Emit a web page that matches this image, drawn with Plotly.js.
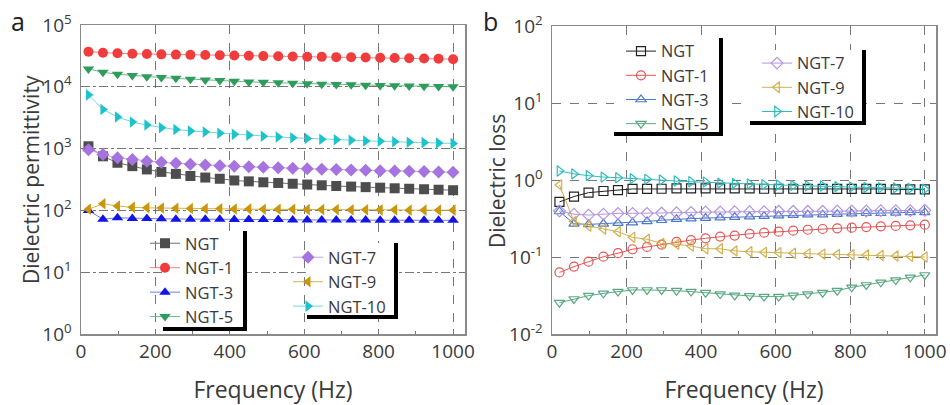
<!DOCTYPE html>
<html>
<head>
<meta charset="utf-8">
<script src="https://cdn.plot.ly/plotly-3.0.1.min.js"></script>
<style>html,body{margin:0;padding:0;background:#fff;}#chart{width:950px;height:405px;}</style>
</head>
<body>
<div id="chart"></div>
<script>
// ---- data ----
const seriesNames = ["NGT", "NGT-1", "NGT-3", "NGT-5", "NGT-7", "NGT-9", "NGT-10"];
const freq = [20, 59, 98, 138, 177, 216, 255, 294, 334, 373, 412, 451, 490, 530, 569, 608, 647, 686, 726, 765, 804, 843, 882, 922, 961, 1000];

// Panel a: dielectric permittivity
const permNGT   = [1090, 750, 590, 520, 460, 420, 390, 360, 340, 325, 305, 295, 285, 278, 270, 262, 255, 248, 243, 238, 233, 228, 224, 220, 216, 212];
const permNGT1  = [37000, 35500, 34800, 34300, 33900, 33500, 33200, 32900, 32600, 32300, 32000, 31700, 31400, 31200, 31000, 30700, 30500, 30200, 30000, 29700, 29500, 29200, 29000, 28700, 28400, 28000];
const permNGT3  = [100, 72, 76, 74, 74, 73, 72, 72, 72, 72, 71, 71, 71, 71, 70, 70, 70, 70, 70, 70, 69, 69, 69, 69, 69, 69];
const permNGT5  = [19500, 17200, 16000, 15200, 14600, 14100, 13700, 13300, 12900, 12600, 12300, 12000, 11800, 11600, 11400, 11200, 11000, 10900, 10800, 10600, 10500, 10400, 10300, 10200, 10100, 10000];
const permNGT7  = [960, 800, 710, 665, 625, 600, 580, 560, 545, 530, 518, 507, 497, 488, 480, 472, 465, 458, 452, 446, 440, 435, 430, 425, 420, 415];
const permNGT9  = [104, 128, 118, 112, 110, 109, 108, 107, 106, 106, 105, 105, 104, 104, 104, 103, 103, 103, 102, 102, 102, 102, 101, 101, 101, 101];
const permNGT10 = [7400, 4300, 3250, 2700, 2400, 2180, 2030, 1930, 1850, 1770, 1700, 1640, 1590, 1540, 1500, 1460, 1420, 1390, 1360, 1330, 1310, 1290, 1270, 1250, 1230, 1210];

// Panel b: dielectric loss
const lossNGT   = [0.52, 0.61, 0.685, 0.72, 0.74, 0.765, 0.765, 0.77, 0.78, 0.78, 0.78, 0.78, 0.78, 0.78, 0.77, 0.77, 0.77, 0.765, 0.765, 0.765, 0.765, 0.765, 0.765, 0.755, 0.755, 0.755];
const lossNGT1  = [0.063, 0.075, 0.087, 0.101, 0.112, 0.126, 0.135, 0.145, 0.157, 0.166, 0.175, 0.184, 0.19, 0.2, 0.207, 0.213, 0.22, 0.226, 0.231, 0.236, 0.24, 0.245, 0.25, 0.253, 0.258, 0.263];
const lossNGT3  = [0.39, 0.27, 0.265, 0.27, 0.275, 0.28, 0.29, 0.3, 0.31, 0.315, 0.32, 0.325, 0.33, 0.335, 0.34, 0.345, 0.35, 0.355, 0.355, 0.36, 0.365, 0.37, 0.37, 0.375, 0.38, 0.38];
const lossNGT5  = [0.0255, 0.0285, 0.0315, 0.0337, 0.0355, 0.0373, 0.0373, 0.0373, 0.0365, 0.0355, 0.0344, 0.033, 0.0317, 0.0312, 0.0306, 0.0306, 0.0317, 0.033, 0.0344, 0.0365, 0.0404, 0.0433, 0.0469, 0.0502, 0.0545, 0.0584];
const lossNGT7  = [0.396, 0.36, 0.35, 0.36, 0.369, 0.369, 0.369, 0.372, 0.376, 0.38, 0.384, 0.384, 0.388, 0.388, 0.388, 0.392, 0.392, 0.392, 0.392, 0.396, 0.396, 0.396, 0.4, 0.4, 0.4, 0.404];
const lossNGT9  = [0.86, 0.29, 0.253, 0.231, 0.213, 0.18, 0.17, 0.15, 0.146, 0.139, 0.128, 0.128, 0.12, 0.117, 0.115, 0.114, 0.112, 0.11, 0.109, 0.108, 0.107, 0.106, 0.105, 0.103, 0.102, 0.1];
const lossNGT10 = [1.31, 1.2, 1.14, 1.09, 1.07, 1.04, 1.02, 1.0, 0.97, 0.95, 0.94, 0.91, 0.905, 0.89, 0.87, 0.86, 0.85, 0.84, 0.835, 0.82, 0.81, 0.8, 0.795, 0.79, 0.78, 0.76];

// tick labels
const permTickVals = [1, 10, 100, 1000, 10000, 100000];
const permTickText = ["10<sup>0</sup>", "10<sup>1</sup>", "10<sup>2</sup>", "10<sup>3</sup>", "10<sup>4</sup>", "10<sup>5</sup>"];
const lossTickVals = [0.01, 0.1, 1, 10, 100];
const lossTickText = ["10<sup>-2</sup>", "10<sup>-1</sup>", "10<sup>0</sup>", "10<sup>1</sup>", "10<sup>2</sup>"];

const permData = [permNGT, permNGT1, permNGT3, permNGT5, permNGT7, permNGT9, permNGT10];
const lossData = [lossNGT, lossNGT1, lossNGT3, lossNGT5, lossNGT7, lossNGT9, lossNGT10];

// ---- styles ----
const symA = ["square", "circle", "triangle-up", "triangle-down", "diamond", "triangle-left", "triangle-right"];
const colA = ["#4d4d4d", "#f03c3c", "#1414e6", "#2e9c5a", "#a673e0", "#c9960c", "#1cc2cc"];
const lineA = ["#707070", "#f58080", "#6a7ff0", "#6ab88a", "#c4a4ec", "#d8b24a", "#70d8dc"];
const colB = ["#222222", "#e85454", "#4a7acb", "#5aa882", "#b496e2", "#d2b04e", "#2fbcbc"];

const W = 950, H = 405;
const px = x => x / W, py = y => 1 - y / H;
const FONT = "Open Sans, Noto Sans, sans-serif";
const TXT = "#3a3a3a";

const traces = [];
seriesNames.forEach((n, i) => {
  traces.push({
    x: freq, y: permData[i], name: n, type: "scatter", mode: "lines+markers",
    xaxis: "x", yaxis: "y",
    legend: i < 4 ? "legend" : "legend2",
    line: {color: lineA[i], width: 1},
    marker: {symbol: symA[i], color: colA[i], size: 10, line: {width: 0}}
  });
});
seriesNames.forEach((n, i) => {
  traces.push({
    x: freq, y: lossData[i], name: n, type: "scatter", mode: "lines+markers",
    xaxis: "x2", yaxis: "y2",
    legend: i < 4 ? "legend3" : "legend4",
    line: {color: colB[i], width: 1},
    marker: {symbol: symA[i] + "-open", color: colB[i], size: 9, line: {width: 1.2, color: colB[i]}}
  });
});

function xAx(domain, range, anchor) {
  return {
    domain: domain, range: range, anchor: anchor, type: "linear",
    tick0: 0, dtick: 200, ticks: "inside", ticklen: 5, tickcolor: "#777",
    showline: true, mirror: true, linecolor: "#8a8a8a", linewidth: 1.5,
    showgrid: true, gridcolor: "#555", griddash: "dash", gridwidth: 0.8,
    zeroline: false,
    minor: {dtick: 100, ticks: "inside", ticklen: 3, tickcolor: "#777", showgrid: false},
    tickfont: {family: FONT, size: 19, color: TXT},
    title: {text: "Frequency (Hz)", font: {family: FONT, size: 23, color: TXT}, standoff: 18},
    automargin: false
  };
}
function yAx(domain, range, anchor, vals, texts, dash) {
  return {
    domain: domain, range: range, anchor: anchor, type: "log",
    tickmode: "array", tickvals: vals, ticktext: texts,
    ticks: "inside", ticklen: 5, tickcolor: "#777",
    showline: true, mirror: true, linecolor: "#8a8a8a", linewidth: 1.5,
    showgrid: true, gridcolor: "#555", griddash: dash, gridwidth: 0.8,
    zeroline: false,
    tickfont: {family: FONT, size: 19, color: TXT},
    ticklabelstandoff: 4,
    automargin: false
  };
}

function legendAt(x, y, fs) {
  return {
    x: x, y: y, xanchor: "left", yanchor: "top", xref: "paper", yref: "paper",
    bgcolor: "rgba(0,0,0,0)", borderwidth: 0,
    font: {family: FONT, size: fs, color: TXT},
    tracegroupgap: 0, itemwidth: 30, traceorder: "normal"
  };
}

// legend panels (white box + L-shaped black shadow) in pixel coords
const boxes = [
  [163, 231, 243, 327],
  [307, 243, 394, 315],
  [614, 38, 719, 132],
  [750, 50, 862, 121]
];
const shapes = [];
boxes.forEach(b => {
  const [x0, y0, x1, y1] = b;
  shapes.push({type: "rect", xref: "paper", yref: "paper", layer: "above",
    x0: px(x0), x1: px(x1), y0: py(y1), y1: py(y0), fillcolor: "#ffffff", line: {width: 0}});
  shapes.push({type: "rect", xref: "paper", yref: "paper", layer: "above",
    x0: px(x1), x1: px(x1 + 4), y0: py(y1 + 4), y1: py(y0), fillcolor: "#000000", line: {width: 0}});
  shapes.push({type: "rect", xref: "paper", yref: "paper", layer: "above",
    x0: px(x0), x1: px(x1 + 4), y0: py(y1 + 4), y1: py(y1), fillcolor: "#000000", line: {width: 0}});
});

const layout = {
  width: W, height: H,
  margin: {l: 0, r: 0, t: 0, b: 0},
  paper_bgcolor: "#ffffff", plot_bgcolor: "#ffffff",
  showlegend: true,
  xaxis: xAx([px(81), px(465)], [0, 1032], "y"),
  yaxis: yAx([py(334), py(25)], [0, 5], "x", permTickVals, permTickText, "dashdot"),
  xaxis2: xAx([px(552), px(936)], [0, 1030], "y2"),
  yaxis2: yAx([py(334), py(26)], [-2, 2], "x2", lossTickVals, lossTickText, "dash"),
  legend: legendAt(px(145), py(226), 16.5),
  legend2: legendAt(px(288), py(240), 16.5),
  legend3: legendAt(px(621), py(34), 16.3),
  legend4: legendAt(px(757), py(46), 16.3),
  shapes: shapes,
  annotations: [
    {text: "a", xref: "paper", yref: "paper", x: px(18), y: py(21), showarrow: false,
     font: {family: FONT, size: 25, color: "#222"}, xanchor: "center", yanchor: "middle"},
    {text: "b", xref: "paper", yref: "paper", x: px(490), y: py(21), showarrow: false,
     font: {family: FONT, size: 25, color: "#222"}, xanchor: "center", yanchor: "middle"},
    {text: "Dielectric permittivity", xref: "paper", yref: "paper", x: px(31), y: py(180),
     textangle: -90, showarrow: false, xanchor: "center", yanchor: "middle",
     font: {family: FONT, size: 21, color: TXT}},
    {text: "Dielectric loss", xref: "paper", yref: "paper", x: px(497), y: py(181),
     textangle: -90, showarrow: false, xanchor: "center", yanchor: "middle",
     font: {family: FONT, size: 21, color: TXT}}
  ]
};

Plotly.newPlot("chart", traces, layout, {displayModeBar: false, staticPlot: true});
</script>
</body>
</html>
